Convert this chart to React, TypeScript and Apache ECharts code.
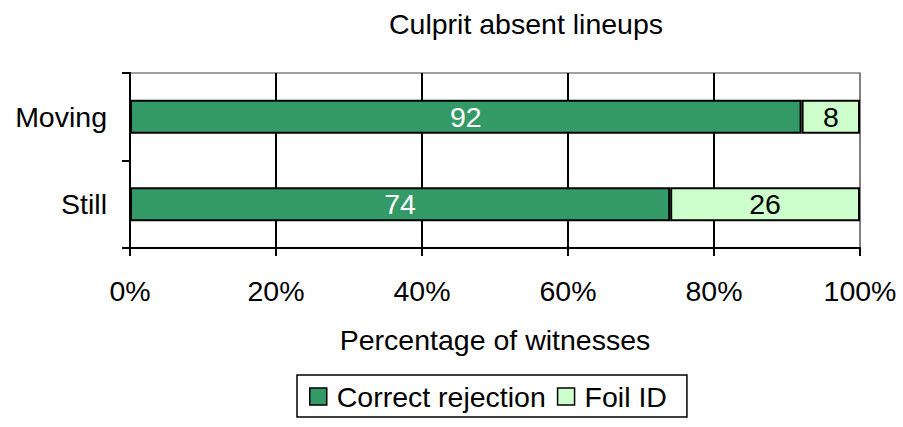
import React, { useEffect, useRef } from "react";
import * as echarts from "echarts";

const categories = ["Still", "Moving"];
const correctRejection = [74, 92];
const foilID = [26, 8];
const xTicks = [0, 20, 40, 60, 80, 100];

const FONT = "'Liberation Sans', Arial, sans-serif";
const FS = 28.5;

export default function App() {
  const ref = useRef<HTMLDivElement>(null);
  useEffect(() => {
    const chart = echarts.init(ref.current!, null, { renderer: "svg" });
    chart.setOption({
      animation: false,
      textStyle: { fontFamily: FONT },
      title: {
        text: "Culprit absent lineups",
        left: 521,
        top: 4,
        textAlign: "center",
        textStyle: { fontFamily: FONT, fontSize: FS, fontWeight: "normal", color: "#000" },
      },
      grid: {
        left: 130,
        right: 43,
        top: 73,
        bottom: 179,
        show: true,
        borderColor: "#808080",
        borderWidth: 1.5,
        backgroundColor: "#fff",
      },
      xAxis: {
        type: "value",
        min: xTicks[0],
        max: xTicks[xTicks.length - 1],
        interval: 20,
        name: "Percentage of witnesses",
        nameLocation: "middle",
        nameGap: 77,
        nameTextStyle: { fontFamily: FONT, fontSize: FS, color: "#000" },
        axisLine: { show: true, lineStyle: { color: "#000", width: 2 } },
        axisTick: { show: true, inside: false, length: 8, lineStyle: { color: "#000", width: 2 } },
        axisLabel: {
          formatter: (v: number) => v + "%",
          fontFamily: FONT,
          fontSize: FS,
          color: "#000",
          margin: 28,
        },
        splitLine: {
          show: true,
          lineStyle: { color: ["#000", "#000", "#000", "#000", "#000", "#808080"], width: 2 },
        },
      },
      yAxis: {
        type: "category",
        data: categories,
        axisLine: { show: true, lineStyle: { color: "#000", width: 2 } },
        axisTick: { show: true, inside: false, length: 8, lineStyle: { color: "#000", width: 2 } },
        axisLabel: { fontFamily: FONT, fontSize: FS, color: "#000", margin: 23 },
        splitLine: { show: false },
      },
      legend: {
        bottom: 10,
        left: 297,
        icon: "rect",
        itemWidth: 17,
        itemHeight: 17,
        itemGap: 11,
        borderColor: "#000",
        borderWidth: 1.5,
        padding: [7, 20, 6, 12],
        itemStyle: { borderColor: "#000", borderWidth: 1.5 },
        textStyle: { fontFamily: FONT, fontSize: FS, color: "#000", padding: [0, 0, 0, 5] },
        data: ["Correct rejection", "Foil ID"],
      },
      series: [
        {
          name: "Correct rejection",
          type: "bar",
          stack: "total",
          data: correctRejection,
          barWidth: 34,
          itemStyle: { color: "#339966", borderColor: "#000", borderWidth: 2 },
          label: { show: true, position: "inside", color: "#fff", fontFamily: FONT, fontSize: FS },
        },
        {
          name: "Foil ID",
          type: "bar",
          stack: "total",
          data: foilID,
          barWidth: 34,
          itemStyle: { color: "#CCFFCC", borderColor: "#000", borderWidth: 2 },
          label: { show: true, position: "inside", color: "#000", fontFamily: FONT, fontSize: FS },
        },
      ],
    });
    return () => chart.dispose();
  }, []);
  return <div ref={ref} style={{ width: 903, height: 427, position: "absolute", left: 0, top: 0 }} />;
}
